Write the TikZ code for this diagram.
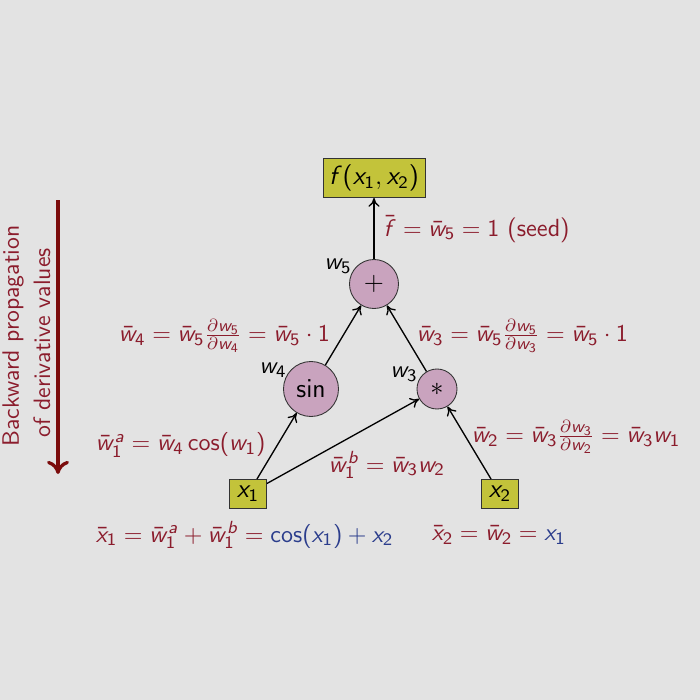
\documentclass[tikz,border=0pt]{standalone}
\usetikzlibrary{arrows.meta}
\SetSymbolFont{operators}{normal}{OT1}{cmss}{m}{n}
\DeclareSymbolFont{sfit}{OT1}{cmss}{m}{sl}
\DeclareMathSymbol{w}{\mathalpha}{sfit}{`w}
\DeclareMathSymbol{x}{\mathalpha}{sfit}{`x}
\DeclareMathSymbol{f}{\mathalpha}{sfit}{`f}
\DeclareMathSymbol{a}{\mathalpha}{sfit}{`a}
\DeclareMathSymbol{b}{\mathalpha}{sfit}{`b}
\definecolor{bg}{RGB}{227,227,227}
\definecolor{dred}{RGB}{139,28,44}
\definecolor{dblue}{RGB}{43,61,140}
\definecolor{boxfill}{RGB}{195,195,58}
\definecolor{circfill}{RGB}{201,163,190}
\definecolor{arrred}{RGB}{123,12,12}
\newcommand\figfont{\sffamily\fontsize{11.3}{14}\selectfont}
\newcommand\nodefont{\sffamily\fontsize{12}{14}\selectfont}
\newcommand\sidefont{\sffamily\fontsize{10.8}{13}\selectfont}
\tikzset{
  varbox/.style={draw=black!80, fill=boxfill, inner sep=0pt, minimum width=37*0.016cm, minimum height=29*0.016cm, font=\nodefont},
  opnode/.style={draw=black!80, fill=circfill, circle, inner sep=0pt, font=\nodefont},
  conn/.style={-{To[length=4pt,width=5pt]}, line width=0.6pt, black},
  redlbl/.style={text=dred, font=\figfont},
  wlbl/.style={text=black, font=\figfont},
}
\begin{document}
\begin{tikzpicture}[x=0.016cm, y=-0.016cm]
\fill[bg] (0,0) rectangle (700,700);
\useasboundingbox (0,0) rectangle (700,700);

\node[varbox, minimum width=102*0.016cm, minimum height=39*0.016cm] (f) at (374,178) {$f(x_1,x_2)$};
\node[opnode, minimum size=49*0.016cm] (w5) at (374,284) {$+$};
\node[opnode, minimum size=55*0.016cm] (w4) at (311,389) {$\sin$};
\node[opnode, minimum size=40*0.016cm] (w3) at (437,389) {$*$};
\node[varbox] (x1) at (248,494) {$x_1$};
\node[varbox] (x2) at (500,494) {$x_2$};

\node[wlbl] (l5) at (338,266) {$w_5$};
\node[wlbl] (l4) at (273,370) {$w_4$};
\node[wlbl] (l3) at (404,374) {$w_3$};

\draw[conn] (w5) -- (f);
\draw[conn] (w4) -- (w5);
\draw[conn] (w3) -- (w5);
\draw[conn] (x1) -- (w4);
\draw[conn] (x1) -- (w3);
\draw[conn] (x2) -- (w3);

\node[redlbl, anchor=west] (seed) at (376,229) {$\bar f=\bar w_5=1$ (seed)};
\node[redlbl, anchor=west] (e4) at (111,336) {$\bar w_4=\bar w_5\frac{\partial w_5}{\partial w_4}=\bar w_5\cdot 1$};
\node[redlbl, anchor=west] (e3) at (409,336) {$\bar w_3=\bar w_5\frac{\partial w_5}{\partial w_3}=\bar w_5\cdot 1$};
\node[redlbl, anchor=west] (e1a) at (88,445) {$\bar w_1^a=\bar w_4\cos(w_1)$};
\node[redlbl, anchor=west] (e1b) at (321,465) {$\bar w_1^b=\bar w_3 w_2$};
\node[redlbl, anchor=west] (e2) at (464,437) {$\bar w_2=\bar w_3\frac{\partial w_3}{\partial w_2}=\bar w_3 w_1$};
\node[redlbl, anchor=west] (ex1) at (88,535) {$\bar x_1=\bar w_1^a+\bar w_1^b={}$\textcolor{dblue}{$\cos(x_1)+x_2$}};
\node[redlbl, anchor=west] (ex2) at (424,535) {$\bar x_2=\bar w_2={}$\textcolor{dblue}{$x_1$}};

\node[text=dred, font=\sidefont, rotate=90] (t1) at (13,336) {Backward propagation};
\node[text=dred, font=\sidefont, rotate=90] (t2) at (42,343) {of derivative values};

\coordinate (as) at (58,200);
\coordinate (ae) at (58,474);
\draw[arrred, line width=1.5pt, -{To[length=6pt,width=10pt]}] (as) -- (ae);
\end{tikzpicture}
\end{document}
